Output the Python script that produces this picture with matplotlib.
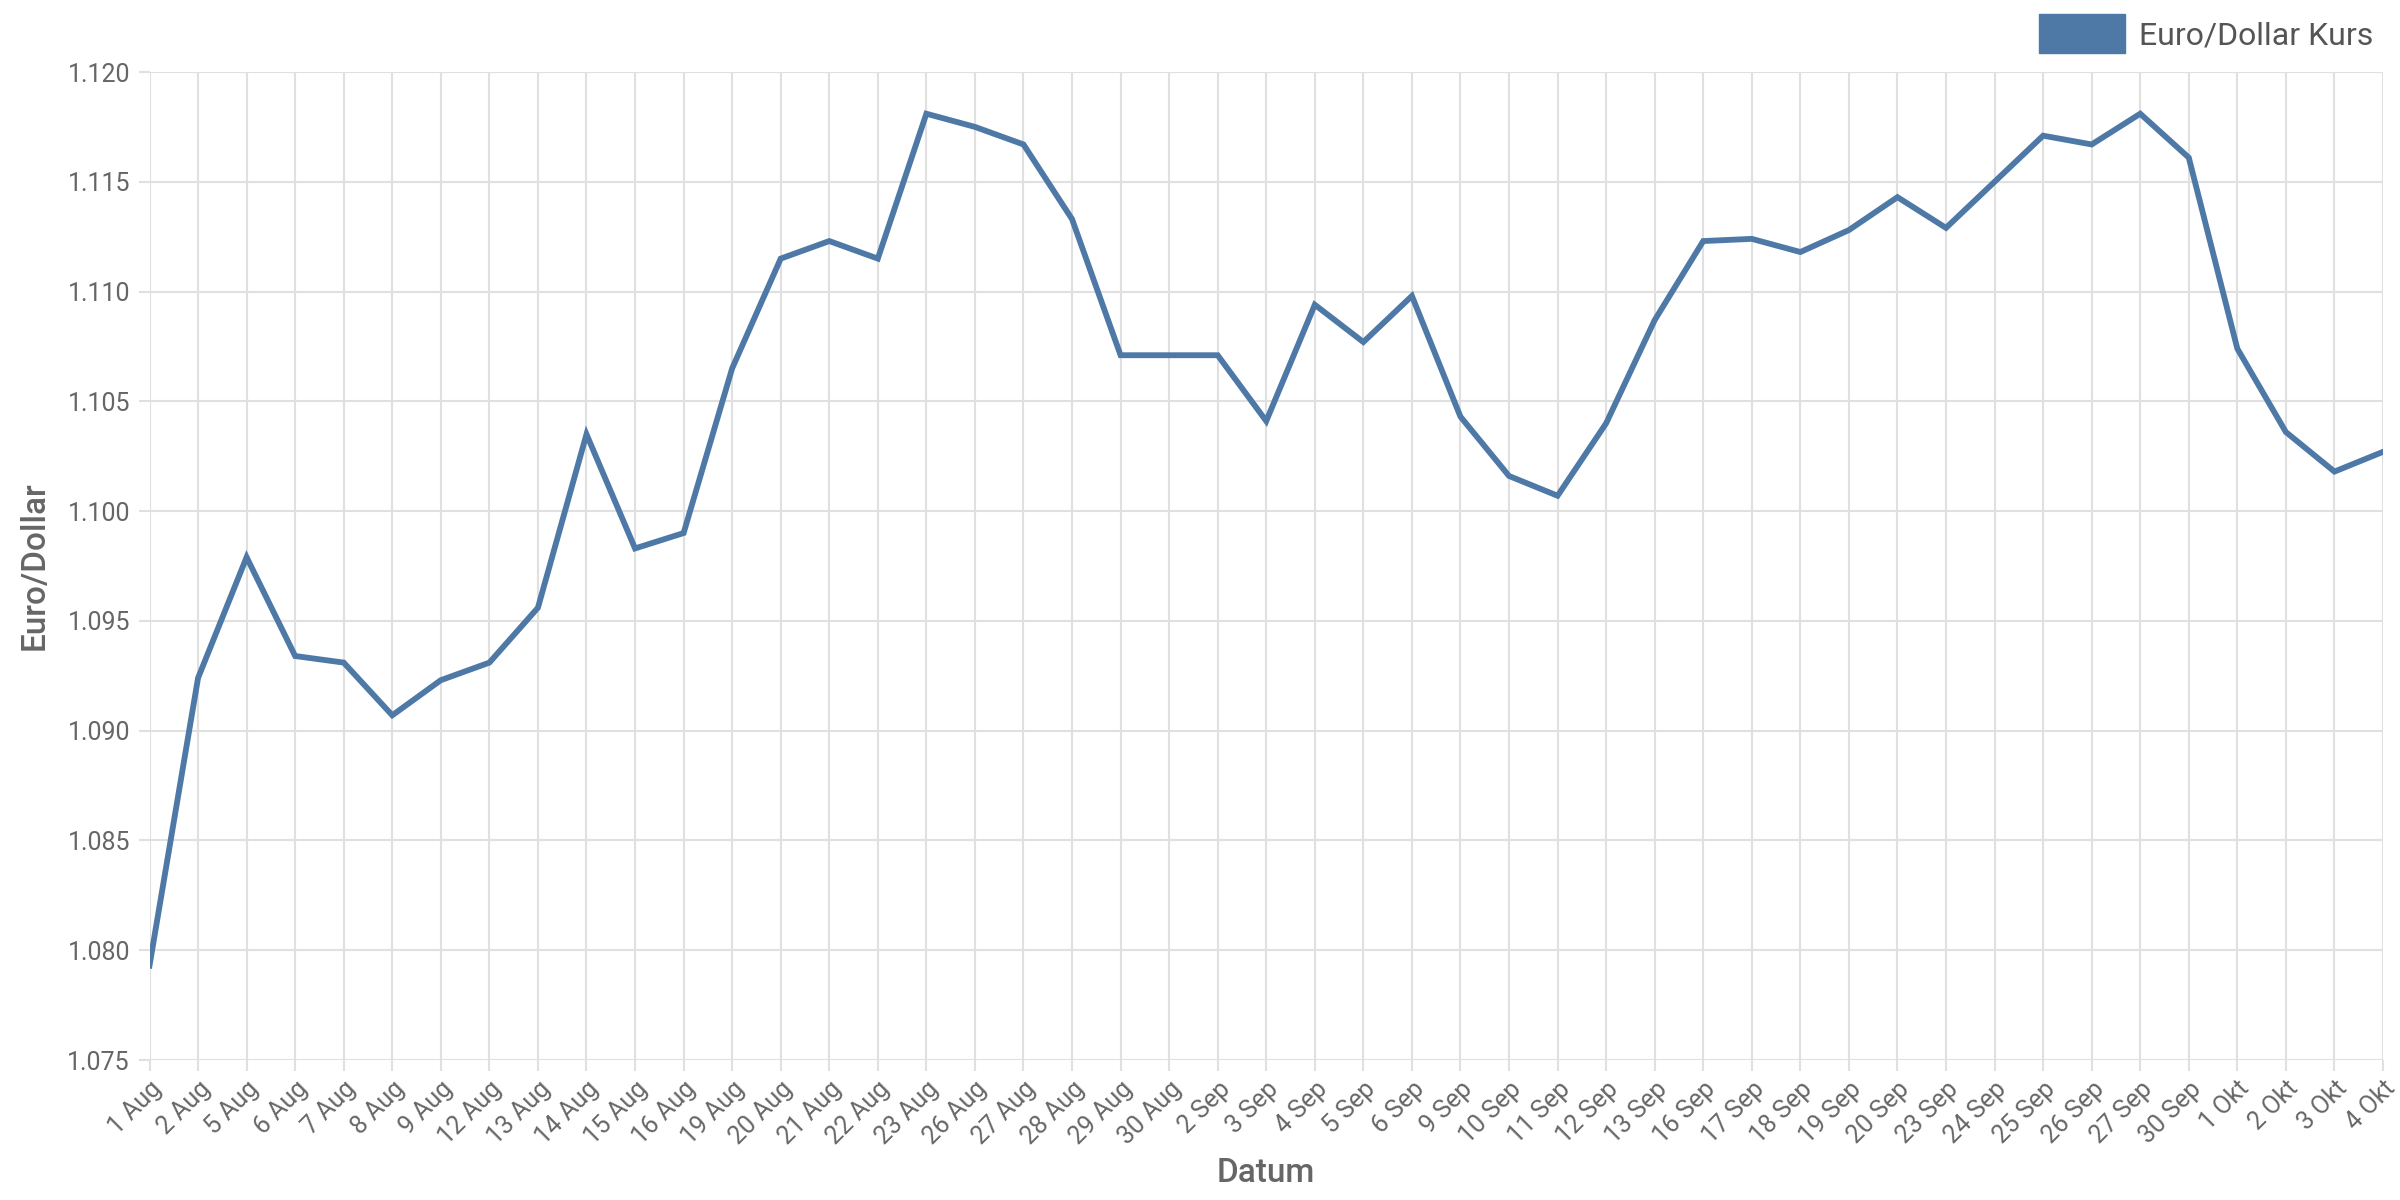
import matplotlib
matplotlib.use("Agg")
import matplotlib.pyplot as plt
from matplotlib.patches import Patch

# Euro/Dollar Kurs Aug - Okt
dates = ["1 Aug", "2 Aug", "5 Aug", "6 Aug", "7 Aug", "8 Aug", "9 Aug", "12 Aug",
         "13 Aug", "14 Aug", "15 Aug", "16 Aug", "19 Aug", "20 Aug", "21 Aug", "22 Aug",
         "23 Aug", "26 Aug", "27 Aug", "28 Aug", "29 Aug", "30 Aug", "2 Sep", "3 Sep",
         "4 Sep", "5 Sep", "6 Sep", "9 Sep", "10 Sep", "11 Sep", "12 Sep", "13 Sep",
         "16 Sep", "17 Sep", "18 Sep", "19 Sep", "20 Sep", "23 Sep", "24 Sep", "25 Sep",
         "26 Sep", "27 Sep", "30 Sep", "1 Okt", "2 Okt", "3 Okt", "4 Okt"]
kurs = [1.0793, 1.0924, 1.0979, 1.0934, 1.0931, 1.0907, 1.0923, 1.0931,
        1.0956, 1.1035, 1.0983, 1.0990, 1.1065, 1.1115, 1.1123, 1.1115,
        1.1181, 1.1175, 1.1167, 1.1133, 1.1071, 1.1071, 1.1071, 1.1041,
        1.1094, 1.1077, 1.1098, 1.1043, 1.1016, 1.1007, 1.1040, 1.1087,
        1.1123, 1.1124, 1.1118, 1.1128, 1.1143, 1.1129, 1.1150, 1.1171,
        1.1167, 1.1181, 1.1161, 1.1074, 1.1036, 1.1018, 1.1027]
yticks = [1.075, 1.080, 1.085, 1.090, 1.095, 1.100, 1.105, 1.110, 1.115, 1.120]

blue = "#4e79a7"
grid_c = "#e0e0e0"
text_c = "#666666"

plt.rcParams['font.family'] = ['Roboto', 'DejaVu Sans']

fig = plt.figure(figsize=(24, 12), dpi=100)
ax = fig.add_axes([149.5 / 2400, 1 - 1060 / 1200, (2383 - 149.5) / 2400, (1060 - 72) / 1200])

x = list(range(len(dates)))
ax.plot(x, kurs, color=blue, lw=4.2, solid_joinstyle='miter', zorder=3)

ax.set_xlim(0, len(dates) - 1)
ax.set_ylim(1.075, 1.120)
ax.set_xticks(x)
ax.set_xticklabels(dates, rotation=45, ha='right', rotation_mode='anchor')
ax.set_yticks(yticks)
ax.set_yticklabels([f"{v:.3f}" for v in yticks])

ax.grid(True, color=grid_c, lw=1.5)
ax.set_axisbelow(True)
for s in ax.spines.values():
    s.set_visible(False)
ax.tick_params(axis='both', colors=grid_c, labelcolor=text_c, labelsize=18, length=8, width=1.5)
ax.tick_params(axis='x', pad=4)
ax.tick_params(axis='y', pad=6)

ax.set_xlabel("Datum", fontsize=24, color=text_c, fontweight='medium', labelpad=6)
ax.set_ylabel("Euro/Dollar", fontsize=24, color=text_c, fontweight='medium', labelpad=12)

handle = Patch(facecolor=blue, edgecolor=blue)
fig.legend([handle], ["Euro/Dollar Kurs"], loc='upper right', bbox_to_anchor=(1.001, 1.012),
           frameon=False, fontsize=23, labelcolor="#555555", handlelength=2.7, handleheight=1.5,
           handletextpad=0.45)

fig.savefig("out.png", dpi=100)
